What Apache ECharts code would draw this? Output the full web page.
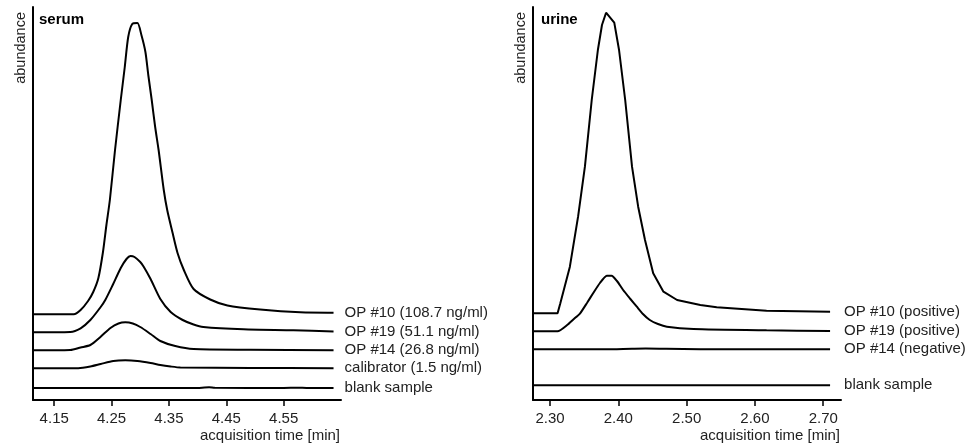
<!DOCTYPE html>
<html>
<head>
<meta charset="utf-8">
<script src="https://cdn.jsdelivr.net/npm/echarts@6/dist/echarts.min.js"></script>
<style>
html,body{margin:0;padding:0;background:#fff;}
#chart{width:978px;height:444px;}
</style>
</head>
<body>
<div id="chart"></div>
<script>
// ---------- DATA ----------
// Serum panel (acquisition time [min], stacked abundance in arbitrary units)
const serumTicks = [4.15, 4.25, 4.35, 4.45, 4.55];
const serumNames = ['OP #10 (108.7 ng/ml)', 'OP #19 (51.1 ng/ml)', 'OP #14 (26.8 ng/ml)', 'calibrator (1.5 ng/ml)', 'blank sample'];

const serumOP10_t = [4.113, 4.184, 4.196, 4.209, 4.218, 4.227, 4.235, 4.241, 4.247, 4.256, 4.266, 4.273, 4.279, 4.286, 4.295, 4.302, 4.309, 4.314, 4.320, 4.326, 4.332, 4.341, 4.347, 4.356, 4.365, 4.376, 4.393, 4.422, 4.452, 4.509, 4.579, 4.637];
const serumOP10_v = [85.7, 85.7, 90, 99, 108, 122, 148, 175, 200, 250, 300, 333, 363, 376, 377, 365, 348, 325, 300, 273, 250, 210, 190, 168, 147, 130, 111, 100.5, 94.5, 90.5, 87.7, 87.3];

const serumOP19_t = [4.113, 4.178, 4.196, 4.213, 4.231, 4.239, 4.252, 4.266, 4.276, 4.283, 4.290, 4.300, 4.306, 4.318, 4.335, 4.353, 4.374, 4.393, 4.410, 4.480, 4.567, 4.637];
const serumOP19_v = [67.7, 68, 71.7, 80, 93, 100, 115, 132, 141, 144, 143, 138, 133.3, 121, 101, 88, 80, 75.5, 73, 70.7, 69.7, 68.5];

const serumOP14_t = [4.113, 4.178, 4.196, 4.213, 4.231, 4.248, 4.262, 4.274, 4.287, 4.300, 4.318, 4.335, 4.361, 4.393, 4.492, 4.637];
const serumOP14_v = [49.7, 50, 52.5, 55, 63.3, 72, 76.5, 77.7, 76.5, 73, 66, 59, 54, 51, 50.3, 49.8];

const serumCal_t = [4.113, 4.192, 4.213, 4.231, 4.253, 4.274, 4.295, 4.318, 4.335, 4.353, 4.370, 4.492, 4.637];
const serumCal_v = [31.7, 31.8, 33.5, 36, 39, 39.7, 39, 37, 35, 33.5, 32.5, 32, 31.8];

const serumBlank_t = [4.113, 4.400, 4.412, 4.420, 4.430, 4.550, 4.575, 4.590, 4.637];
const serumBlank_v = [12, 12, 12.6, 12.8, 12.2, 12, 12.3, 12, 12];

// Urine panel
const urineTicks = [2.30, 2.40, 2.50, 2.60, 2.70];
const urineNames = ['OP #10 (positive)', 'OP #19 (positive)', 'OP #14 (negative)', 'blank sample'];

const urineOP10_t = [2.275, 2.311, 2.315, 2.322, 2.329, 2.341, 2.351, 2.361, 2.370, 2.376, 2.382, 2.394, 2.401, 2.410, 2.420, 2.429, 2.439, 2.451, 2.466, 2.486, 2.520, 2.544, 2.617, 2.710];
const urineOP10_v = [86.7, 86.7, 96.7, 115, 133.3, 183.3, 233.3, 300, 350, 375, 387.3, 377.3, 350, 300, 233.3, 193.3, 160, 126.7, 108.3, 100, 95, 92.7, 89.3, 88.3];

const urineOP19_t = [2.275, 2.311, 2.325, 2.334, 2.344, 2.354, 2.363, 2.373, 2.383, 2.390, 2.398, 2.407, 2.417, 2.427, 2.436, 2.446, 2.458, 2.471, 2.510, 2.617, 2.710];
const urineOP19_v = [68.7, 68.7, 75, 80.5, 86.7, 97, 106.7, 117, 124.3, 124.3, 119, 110, 101.5, 93.3, 86, 80, 76, 73.3, 71, 69.7, 69];

const urineOP14_t = [2.275, 2.380, 2.420, 2.440, 2.470, 2.520, 2.710];
const urineOP14_v = [50.7, 50.8, 51.3, 51.5, 51.2, 50.8, 50.7];

const urineBlank_t = [2.275, 2.710];
const urineBlank_v = [14.7, 14.7];

// ---------- BUILD ----------
const pairs = (t, v) => t.map((x, i) => [x, v[i]]);
const FONT = 'Liberation Sans, Arial, sans-serif';
const TXT = '#222';
const FS = 15;

function lineSeries(name, t, v, gi, dist, smooth) {
  return {
    type: 'line', name: name, xAxisIndex: gi, yAxisIndex: gi,
    data: pairs(t, v), showSymbol: false, symbol: 'none',
    smooth: smooth,
    lineStyle: { color: '#000', width: 2 },
    itemStyle: { color: '#000' },
    animation: false, silent: true,
    endLabel: { show: true, formatter: '{a}', color: TXT, fontSize: FS, fontFamily: FONT, distance: dist }
  };
}

function xAx(gi, min, max, ticks) {
  return {
    type: 'value', gridIndex: gi, min: min, max: max,
    axisLine: { show: true, lineStyle: { color: '#000', width: 2 } },
    axisTick: { show: true, length: 6, customValues: ticks, lineStyle: { color: '#000', width: 1.5 } },
    axisLabel: { customValues: ticks, formatter: v => v.toFixed(2), color: TXT, fontSize: FS, fontFamily: FONT, margin: 11 },
    splitLine: { show: false }
  };
}
function yAx(gi) {
  return {
    type: 'value', gridIndex: gi, min: 0, max: 393,
    axisLine: { show: true, lineStyle: { color: '#000', width: 2 } },
    axisTick: { show: false }, axisLabel: { show: false }, splitLine: { show: false }
  };
}

const option = {
  backgroundColor: '#fff',
  animation: false,
  grid: [
    { left: 33, top: 7, width: 308, height: 393 },
    { left: 533, top: 7, width: 308, height: 393 }
  ],
  xAxis: [xAx(0, 4.113, 4.65, serumTicks), xAx(1, 2.275, 2.726, urineTicks)],
  yAxis: [yAx(0), yAx(1)],
  series: [
    lineSeries(serumNames[0], serumOP10_t, serumOP10_v, 0, 11, 0.25),
    lineSeries(serumNames[1], serumOP19_t, serumOP19_v, 0, 11, 0.25),
    lineSeries(serumNames[2], serumOP14_t, serumOP14_v, 0, 11, 0.25),
    lineSeries(serumNames[3], serumCal_t, serumCal_v, 0, 11, 0.25),
    lineSeries(serumNames[4], serumBlank_t, serumBlank_v, 0, 11, 0.25),
    lineSeries(urineNames[0], urineOP10_t, urineOP10_v, 1, 14, false),
    lineSeries(urineNames[1], urineOP19_t, urineOP19_v, 1, 14, 0.2),
    lineSeries(urineNames[2], urineOP14_t, urineOP14_v, 1, 14, 0.25),
    lineSeries(urineNames[3], urineBlank_t, urineBlank_v, 1, 14, false)
  ],
  graphic: [
    { type: 'text', left: 39, top: 12, style: { text: 'serum', fontWeight: 'bold', fontSize: FS, fontFamily: FONT, fill: '#000' } },
    { type: 'text', left: 541, top: 12, style: { text: 'urine', fontWeight: 'bold', fontSize: FS, fontFamily: FONT, fill: '#000' } },
    { type: 'text', x: 21, y: 12, rotation: Math.PI / 2, style: { text: 'abundance', fontSize: 14.5, fontFamily: FONT, fill: TXT, align: 'right', verticalAlign: 'middle' } },
    { type: 'text', x: 521, y: 12, rotation: Math.PI / 2, style: { text: 'abundance', fontSize: 14.5, fontFamily: FONT, fill: TXT, align: 'right', verticalAlign: 'middle' } },
    { type: 'text', x: 340, y: 436, style: { text: 'acquisition time [min]', fontSize: FS, fontFamily: FONT, fill: TXT, align: 'right', verticalAlign: 'middle' } },
    { type: 'text', x: 840, y: 436, style: { text: 'acquisition time [min]', fontSize: FS, fontFamily: FONT, fill: TXT, align: 'right', verticalAlign: 'middle' } }
  ]
};

const chart = echarts.init(document.getElementById('chart'), null, { renderer: 'canvas' });
chart.setOption(option);
</script>
</body>
</html>
